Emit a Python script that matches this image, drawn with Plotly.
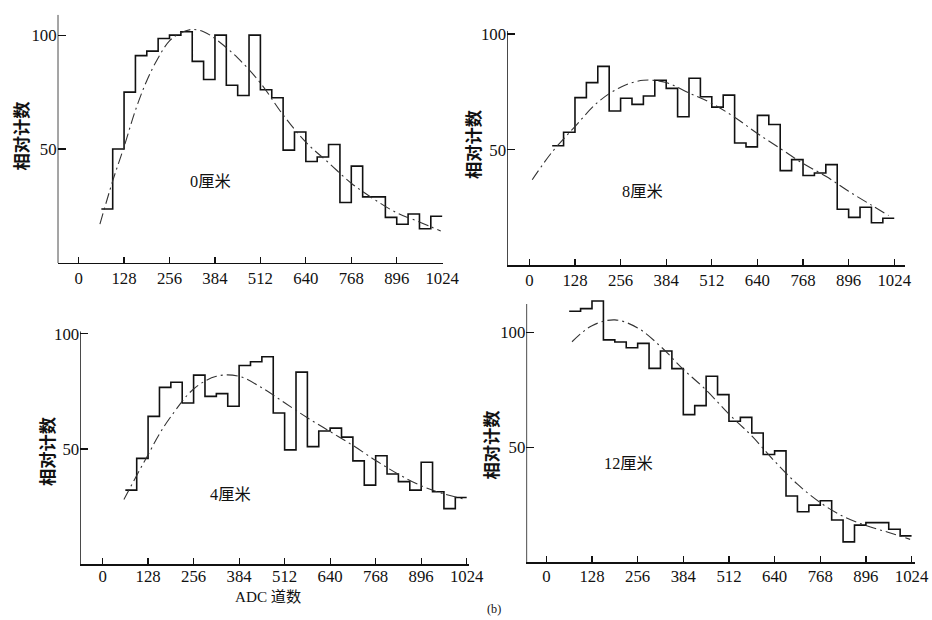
import plotly.graph_objects as go

# ---------------- data ----------------
bin_edges = [64, 96, 128, 160, 192, 224, 256, 288, 320, 352, 384, 416, 448, 480, 512,
             544, 576, 608, 640, 672, 704, 736, 768, 800, 832, 864, 896, 928, 960, 992, 1024]

counts_0cm = [23.7, 50, 75, 91, 93, 98.5, 100, 101.5, 88.5, 80.5, 100, 78, 73.5, 100, 76,
              72.5, 49.5, 57.5, 44.5, 46.5, 52, 26.5, 42.5, 29, 29, 20, 17, 21.5, 15, 20.5]
counts_8cm = [51.7, 57.5, 72.5, 79, 86, 66.7, 72.2, 69.6, 73.2, 80, 76.5, 64.2, 80.9, 72.9, 68.4,
              73.6, 52.9, 51.2, 64.8, 60.9, 40.9, 45.7, 38.8, 39.9, 43.5, 24.2, 20.7, 25.1, 18.4, 20.3]
counts_4cm = [32.1, 45.9, 64.1, 76.7, 78.9, 69.9, 82, 72.8, 74, 68.5, 86.2, 87.8, 90, 65.6, 49.6,
              83.3, 51, 57.8, 59, 55.1, 44.8, 34.3, 47, 39.1, 35.8, 32.1, 44.2, 31.4, 24.1, 28.9]
counts_12cm = [109.3, 110.4, 113.7, 96.8, 95.9, 93.4, 95.3, 84.4, 92, 84.3, 64.3, 68.2, 81, 73, 61.4,
               63.1, 56.3, 46.9, 48.5, 28.9, 22, 24.9, 26.8, 18.4, 8.9, 16.2, 17.3, 17.3, 14.4, 11.5]

fit_0cm_x = [60, 96, 128, 160, 192, 224, 256, 288, 320, 352, 384, 448, 512, 576, 640, 704, 768, 832, 896, 960, 1020]
fit_0cm_y = [17, 36, 51, 67, 80, 90, 97.5, 101, 102.5, 101.5, 98.5, 90, 79, 65, 53, 44, 35, 28, 22, 18, 14]

fit_8cm_x = [8, 64, 128, 192, 256, 320, 384, 448, 512, 576, 640, 704, 768, 832, 896, 960, 1008]
fit_8cm_y = [37, 49, 60, 70.5, 77, 80, 79, 74.5, 70, 64, 57, 50.5, 44, 38.5, 32, 26, 21.5]

fit_4cm_x = [60, 96, 128, 160, 192, 256, 320, 384, 448, 512, 576, 640, 704, 768, 832, 896, 960, 1024]
fit_4cm_y = [28, 38.5, 47.5, 56.5, 64, 76, 81.5, 81.5, 76.5, 70, 63.5, 57.5, 51.5, 45, 39, 34, 30.5, 28]

fit_12cm_x = [72, 128, 192, 256, 320, 384, 448, 512, 576, 640, 704, 768, 832, 896, 960, 1020]
fit_12cm_y = [96, 103, 105.5, 102, 94, 84, 75, 64.5, 55, 44, 34, 26, 20, 16, 13, 10]

x_ticks = [0, 128, 256, 384, 512, 640, 768, 896, 1024]
y_ticks = [50, 100]
panel_labels = ["0厘米", "8厘米", "4厘米", "12厘米"]
y_title = "相对计数"
x_title = "ADC 道数"
fig_tag = "(b)"

# ---------------- layout geometry ----------------
W, H = 932, 620
# the rendered page shows the figure slightly reduced and shifted down;
# geometry below is given in target-picture pixels and converted here
S, OX, OY = 0.984, -1.0, 8.0


def gx(px):
    return (px - OX) / S


def gy(py):
    return (py - OY) / S


def fs(size):
    return round(size / S, 1)


panels = [
    dict(c=counts_0cm, fx=fit_0cm_x, fy=fit_0cm_y, xd=(56.7, 442.7), xr=(-59.1, 1026.8),
         yd=(15.6, 262.7), yr=(0, 109), ytop=109, lab=(210, 182), yt=(20, 136), so=-1),
    dict(c=counts_8cm, fx=fit_8cm_x, fy=fit_8cm_y, xd=(506.7, 905), xr=(-62.5, 1054),
         yd=(31.7, 265), yr=(0, 101.4), ytop=101.4, lab=(642, 192), yt=(472, 145), so=-1),
    dict(c=counts_4cm, fx=fit_4cm_x, fy=fit_4cm_y, xd=(79.3, 468.3), xr=(-62.9, 1029.8),
         yd=(330.8, 562.5), yr=(0, 101), ytop=101, lab=(230, 493), yt=(45, 450), so=-4),
    dict(c=counts_12cm, fx=fit_12cm_x, fy=fit_12cm_y, xd=(526, 915), xr=(-56, 1033.4),
         yd=(295.4, 560.7), yr=(0, 116), ytop=112.4, lab=(628, 462), yt=(490, 444), so=-2),
]

TICK_FONT = dict(family="Liberation Serif, Times New Roman, serif", size=fs(16.5), color="#111")
CJK_FONT = "Liberation Serif, Noto Sans CJK SC, sans-serif"
AX = "#111"

fig = go.Figure()
layout = dict(width=W, height=H, margin=dict(l=0, r=0, t=0, b=0, pad=0), autosize=False,
              paper_bgcolor="white", plot_bgcolor="white", showlegend=False)
annotations = []
shapes = []

for i, p in enumerate(panels, start=1):
    xa = "x" if i == 1 else f"x{i}"
    ya = "y" if i == 1 else f"y{i}"
    step_y = list(p["c"]) + [p["c"][-1]]
    fig.add_trace(go.Scatter(x=bin_edges, y=step_y, mode="lines", line_shape="hv",
                             line=dict(color="#111", width=1.6), xaxis=xa, yaxis=ya,
                             hoverinfo="skip"))
    fig.add_trace(go.Scatter(x=p["fx"], y=p["fy"], mode="lines", line_shape="spline",
                             line=dict(color="#333", width=1.1, dash="11px,4px,2px,4px"),
                             xaxis=xa, yaxis=ya, hoverinfo="skip"))
    xkey = "xaxis" if i == 1 else f"xaxis{i}"
    ykey = "yaxis" if i == 1 else f"yaxis{i}"
    layout[xkey] = dict(domain=[gx(p["xd"][0]) / W, gx(p["xd"][1]) / W], range=list(p["xr"]),
                        anchor=ya, tickvals=x_ticks, ticktext=[str(v) for v in x_ticks],
                        ticks="inside", ticklen=6, tickwidth=1.2, tickcolor=AX,
                        ticklabelstandoff=p["so"],
                        showline=True, linecolor=AX, linewidth=1.5, mirror=False,
                        showgrid=False, zeroline=False, tickfont=TICK_FONT, fixedrange=True)
    layout[ykey] = dict(domain=[1 - gy(p["yd"][1]) / H, 1 - gy(p["yd"][0]) / H],
                        range=list(p["yr"]),
                        anchor=xa, tickvals=y_ticks, ticktext=[str(v) for v in y_ticks],
                        ticks="inside", ticklen=8, tickwidth=1.2, tickcolor=AX,
                        showline=False, mirror=False,
                        showgrid=False, zeroline=False, tickfont=TICK_FONT, fixedrange=True)
    shapes.append(dict(type="line", xref=xa, yref=ya, x0=p["xr"][0], x1=p["xr"][0],
                       y0=p["yr"][0], y1=p["ytop"], line=dict(color=AX, width=1.5)))
    annotations.append(dict(text=panel_labels[i - 1], xref="paper", yref="paper",
                            x=gx(p["lab"][0]) / W, y=1 - gy(p["lab"][1]) / H, xanchor="center",
                            yanchor="middle", showarrow=False,
                            font=dict(family=CJK_FONT, size=fs(16), color="#111")))
    annotations.append(dict(text=y_title, xref="paper", yref="paper", textangle=-90,
                            x=gx(p["yt"][0]) / W, y=1 - gy(p["yt"][1]) / H, xanchor="center",
                            yanchor="middle", showarrow=False,
                            font=dict(family="Noto Sans CJK SC, sans-serif", size=fs(17),
                                      color="#111", weight="bold")))

annotations.append(dict(text=x_title, xref="paper", yref="paper", x=gx(267) / W, y=1 - gy(595) / H,
                        xanchor="center", yanchor="middle", showarrow=False,
                        font=dict(family=CJK_FONT, size=fs(15), color="#111")))
annotations.append(dict(text=fig_tag, xref="paper", yref="paper", x=gx(494) / W, y=1 - gy(607) / H,
                        xanchor="center", yanchor="middle", showarrow=False,
                        font=dict(family="Liberation Serif, serif", size=fs(12), color="#111")))
layout["annotations"] = annotations
layout["shapes"] = shapes
fig.update_layout(**layout)
fig.write_html("out.html", config={"displayModeBar": False, "staticPlot": True},
               post_script="document.body.style.margin='0';"
                           "document.documentElement.style.overflow='hidden';")
